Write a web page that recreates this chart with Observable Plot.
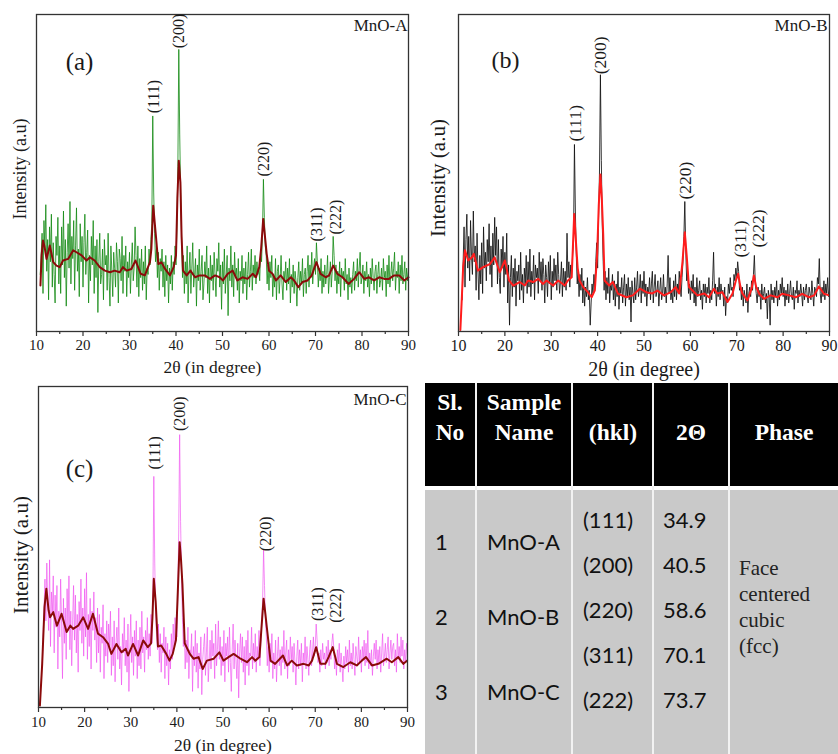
<!DOCTYPE html>
<html><head><meta charset="utf-8">
<script src="https://cdn.jsdelivr.net/npm/d3@7"></script>
<script src="https://cdn.jsdelivr.net/npm/@observablehq/plot@0.6"></script>
<style>
body{margin:0;background:#fff;}
#root{position:relative;width:838px;height:754px;overflow:hidden;background:#fff;}
.pane{position:absolute;}
.tx{position:absolute;white-space:nowrap;line-height:1;}
</style>
</head><body><div id="root"></div>
<script>
// ---------- shared axis data ----------
const majorTicks = [10,20,30,40,50,60,70,80,90];
const minorTicks = [15,25,35,45,55,65,75,85];
const hkl = ["(111)","(200)","(220)","(311)","(222)"];
const RAW_START = 10.8, RAW_STEP = 0.2;

// ---------- panel (a) MnO-A ----------
const rawA = [
18,
24,31,12,35,26, 40,19,29,10,33, 22,37,14,28,18, 9,30,24,36,15, 27,12,33,21,38,
17,29,8,25,34, 20,41,15,30,23, 35,13,27,39,19, 26,11,34,22,30, 14,28,37,18,25,
32,9,24,16,30, 21,35,12,27,17, 29,6,22,31,15, 18,26,10,29,21, 24,13,31,17,8,
27,19,11,25,20, 14,28,22,9,26, 23,16,30,12,24, 19,27,11,22,17, 25,12,21,28,16,
20,33,24,14,27, 11,23,17,26,13, 22,15,27,10,20, 18,26,21,29,34, 68,44,31,22,27,
17,25,13,23,19, 26,14,22,11,24, 16,21,9,20,15, 24,13,22,18,27, 21,33,52,89,62,
44,30,17,24,12, 22,15,27,9,19, 25,12,20,28,14, 18,23,8,21,16, 26,13,19,24,10,
15,22,17,27,12, 20,9,24,16,21, 13,25,18,11,23, 19,28,14,21,7, 22,15,26,12,18,
24,5,20,16,27, 14,21,11,25,17, 20,13,23,9,19, 16,24,12,20,15, 22,10,18,25,14,
19,26,13,21,17, 24,15,22,18,20, 16,25,22,31,48, 36,27,24,15,21, 13,22,17,24,11,
18,14,23,10,19, 21,12,17,24,15, 10,19,16,22,13, 20,15,23,9,18, 14,21,12,19,16,
8,17,22,13,19, 15,23,11,18,20, 12,19,24,14,21, 17,25,15,20,23, 18,28,22,14,20,
16,23,12,19,14, 21,15,18,24,12, 17,22,14,19,30, 24,16,21,12,19, 15,22,11,20,17,
19,13,23,15,18, 10,20,14,17,12, 18,22,13,19,16, 23,14,20,25,15, 17,21,12,19,16,
22,14,18,11,20, 15,23,17,13,19, 21,12,18,22,14, 16,20,13,23,17, 19,11,21,15,24,
14,18,22,16,20, 25,13,19,17,22, 12,21,16,24,15, 18,22,13,20,16,
19];
const smoothA = [[10.85,14.5],[11.1,24],[11.4,28.7],[11.7,27],[12.15,22.9],[12.87,27.1],[13.6,21.9],[14.3,20.8],[15.0,20.3],[15.7,22.4],[16.8,22.9],[17.9,25.6],[18.6,25],[19.7,24],[20.75,22.4],[21.5,23.4],[22.5,22.4],[23.6,20.3],[24.7,19.2],[25.8,18.7],[26.8,19.2],[27.9,18.7],[28.6,20.3],[29.4,19.2],[30.4,19.7],[31.3,22.4],[32.4,18.2],[33.3,17.7],[34.4,21.9],[34.7,26],[35.1,39.7],[35.7,29.8],[36.2,21.3],[36.9,21.8],[37.6,19.8],[38.7,17.7],[39.5,20.3],[40.0,24],[40.3,42],[40.6,53.9],[40.95,47],[41.2,30],[41.5,19.2],[42.3,17.7],[43.1,19.2],[44.1,17.1],[45.1,17.7],[46.2,17.7],[47.3,16.6],[48.4,17.7],[49.4,17.1],[50.1,16.1],[51.1,18.2],[52.2,19.2],[53.2,16.1],[54.3,17.1],[55.4,16.6],[56.5,18.2],[57.2,17.1],[57.9,20.3],[58.3,26],[58.75,35.5],[59.2,29],[59.5,24.5],[60.0,19.2],[60.75,18.2],[61.5,16.1],[62.5,17.7],[63.6,15.6],[64.7,17.1],[65.4,16.1],[66.3,14.0],[67.2,15.6],[68.3,16.1],[69.2,17.7],[70.2,21.9],[71.1,18.2],[72.2,17.1],[72.9,17.7],[73.8,20.8],[74.7,18.2],[75.8,17.1],[77.1,15.0],[78.3,16.6],[79.4,18.7],[80.5,16.6],[81.5,17.1],[82.6,16.1],[83.7,17.1],[84.8,16.6],[85.8,16.6],[86.9,17.7],[88.0,17.7],[89.1,16.1],[90,17.1]];
const labelXA = [35.2, 40.6, 59.0, 70.3, 74.4];
const labelYA = [68.5, 89, 48.6, 28.1, 30.3];

// ---------- panel (b) MnO-B ----------
const rawB = [
10,
22,33,14,29,37, 20,30,16,35,24, 18,38,22,27,13, 31,19,10,24,15, 28,12,33,20,25,
16,29,22,34,18, 27,14,31,21,36, 24,33,15,29,17, 12,26,20,30,14, 25,18,31,9,21,
2,17,24,11,20, 14,23,8,19,16, 21,10,25,13,18, 9,20,15,24,12, 22,14,26,11,19,
15,24,10,21,17, 20,12,25,16,22, 13,23,18,9,21, 17,11,22,15,24, 10,19,14,23,16,
21,13,25,18,12, 16,22,11,20,14, 19,13,31,17,22, 14,21,17,24,29, 59,38,24,15,19,
11,18,13,20,9, 16,8,14,11,17, 10,13,2,9,15, 12,18,14,22,28, 20,36,50,81,54,
34,22,13,19,10, 17,12,20,9,15, 13,18,10,16,8, 15,11,19,7,14, 12,17,9,14,18,
8,15,11,17,10, 14,3,16,12,9, 17,10,14,19,11, 13,18,9,16,12, 19,11,15,8,14,
12,17,10,15,19, 9,14,18,11,13, 16,8,13,17,10, 12,18,11,14,9, 15,24,12,17,10,
13,9,16,11,18, 10,15,12,19,14, 11,17,22,30,41, 26,16,19,12,15, 10,16,12,18,9,
14,8,17,11,13, 16,10,13,7,15, 11,15,9,14,12, 17,9,13,10,16, 25,12,15,8,14,
11,17,10,15,12, 13,8,14,5,11, 9,15,12,17,13, 14,11,18,16,20, 17,22,19,13,15,
10,14,8,13,11, 9,15,6,12,14, 11,16,13,18,24, 15,12,9,14,11, 13,7,15,10,12,
14,9,12,4,13, 11,2,15,10,13, 9,14,11,16,8, 13,10,15,12,17, 11,14,8,13,10,
15,9,12,16,11, 10,14,7,13,12, 16,9,13,11,15, 12,8,14,10,13, 15,11,9,14,12,
10,16,12,8,14, 13,11,17,15,23, 12,9,14,11,16, 10,15,12,17,11,
13];
const smoothB = [[10.4,0.5],[10.7,10],[11.0,20.3],[11.4,25.6],[12.1,22.4],[12.9,23.4],[13.3,24.5],[14.2,19.2],[15.3,20.3],[16.8,21.3],[17.8,23.4],[18.9,18.7],[20.0,22.4],[20.9,16.1],[21.8,14.5],[23.2,15.6],[24.3,14.5],[25.0,16.1],[26.1,15.6],[27.2,16.6],[28.2,15.0],[29.0,16.1],[30.4,14.5],[31.5,16.1],[32.9,14.5],[33.6,16.1],[34.4,17.1],[34.65,26],[34.95,37.1],[35.4,26.6],[35.7,20],[36.1,16.1],[36.9,14.0],[37.9,12.4],[38.7,10.8],[39.4,13.0],[39.9,24.5],[40.25,40],[40.6,49.5],[40.9,42],[41.2,30.8],[41.5,16.1],[42.5,14.5],[43.3,15.6],[44.4,11.9],[46.2,10.8],[47.6,11.4],[49.1,13.5],[50.5,12.4],[51.8,12.0],[52.9,12.9],[54.3,11.4],[55.8,12.4],[56.8,14.0],[57.6,12.0],[58.3,22],[58.8,31.3],[59.2,24],[59.7,14.0],[60.4,13.0],[61.5,11.4],[63.0,12.0],[64.0,10.8],[65.1,13.5],[65.8,12.0],[66.9,12.4],[68.0,9.3],[69.1,12.0],[69.8,16],[70.3,18.2],[70.8,14],[71.2,12.0],[72.3,9.8],[73.2,13.5],[73.7,17.7],[74.2,14],[74.8,12.0],[75.9,10.3],[77.3,11.4],[78.8,10.8],[79.8,11.9],[81.3,11.4],[82.7,10.8],[84.1,11.9],[85.6,10.8],[86.7,11.4],[87.7,14.2],[88.8,11.9],[89.9,11.4]];
const labelXB = [35.2, 40.7, 58.9, 70.8, 74.6];
const labelYB = [59.6, 80.8, 41.3, 23.0, 26.2];

// ---------- panel (c) MnO-C ----------
const rawC = [
12,
22,31,40,27,45, 33,24,46,19,36, 29,41,17,35,25, 38,12,30,22,40, 26,9,34,20,31,
15,37,24,41,18, 30,13,27,38,21, 35,17,29,11,33, 24,40,20,31,16, 37,22,42,15,29,
19,34,12,30,24, 36,21,28,14,31, 17,29,11,25,20, 32,9,23,16,27, 14,26,19,30,10,
22,13,27,8,20, 25,15,31,12,19, 7,23,17,28,13, 21,11,26,5,18, 29,14,22,10,24,
16,27,9,21,13, 25,12,30,17,22, 11,24,18,28,15, 23,16,29,20,33, 72,45,30,22,18,
26,14,23,11,20, 17,25,9,22,13, 20,7,18,12,23, 15,26,19,28,24, 22,35,55,85,58,
42,28,19,24,12, 21,14,25,9,18, 16,23,5,19,13, 24,11,20,6,17, 12,22,4,15,19,
23,10,17,25,8, 14,21,12,24,16, 20,9,26,13,18, 27,15,22,10,19, 13,24,8,20,16,
22,11,25,14,5, 18,26,12,21,15, 9,20,3,17,23, 14,22,11,19,7, 21,13,24,10,17,
16,25,12,20,14, 23,11,19,15,24, 13,20,26,34,49, 38,27,22,13,19, 11,20,14,23,9,
17,12,21,8,16, 22,13,18,10,19, 14,24,12,17,21, 9,18,13,22,15, 19,11,20,14,7,
16,21,12,18,13, 20,8,17,14,22, 12,19,15,10,18, 21,13,17,22,16, 19,26,21,14,17,
11,18,13,20,15, 17,12,19,14,21, 13,18,15,20,23, 19,12,16,10,18, 14,20,11,17,13,
8,16,12,19,14, 18,11,21,13,17, 12,20,15,10,19, 16,13,22,14,18, 11,19,15,21,13,
20,14,24,12,17, 13,18,10,16,20, 15,21,12,18,14, 19,11,17,23,13, 16,20,14,18,22,
12,17,21,15,19, 20,13,18,11,23, 15,19,14,22,16, 21,12,18,14,20,
16];
const smoothC = [[10.3,0.6],[10.8,13.6],[11.3,31.3],[11.7,37.0],[12.2,30.2],[12.5,28.1],[13.2,29.7],[14.0,25.5],[15.0,29.2],[16.1,23.5],[16.9,25.5],[17.5,24.5],[18.6,25.5],[19.7,28.1],[20.75,24.5],[21.8,29.2],[22.9,23.0],[24.0,21.9],[25.1,19.8],[25.8,16.7],[26.9,19.8],[28.0,17.2],[28.9,18.3],[29.4,16.2],[30.5,19.8],[31.6,16.2],[32.7,20.9],[33.7,18.8],[34.4,20],[34.7,28],[35.0,40.1],[35.4,33],[35.9,19.0],[36.6,19.3],[37.7,16.7],[38.4,14.6],[39.1,16.7],[39.8,21],[40.2,36],[40.6,51.5],[40.9,46],[41.2,38.5],[41.7,20],[42.8,16.7],[43.6,15.2],[44.7,15.7],[45.6,12.0],[46.5,14.6],[48.0,15.2],[49.2,17.2],[50.1,14.6],[51.2,15.7],[52.3,16.7],[53.8,15.2],[55.2,14.1],[56.3,15.7],[57.0,14.6],[57.9,15.7],[58.4,26],[58.8,33.9],[59.2,29],[59.5,25.0],[60.3,14.6],[61.3,13.6],[63.0,16.2],[63.9,13.1],[64.9,14.6],[66.0,13.1],[67.5,13.6],[68.6,13.1],[69.3,14.6],[70.2,18.8],[71.1,13.6],[72.2,13.6],[72.9,15.7],[73.8,18.8],[74.7,13.6],[76.1,12.6],[77.6,14.1],[79.0,13.1],[80.1,14.6],[81.0,15.7],[82.3,13.1],[83.7,13.6],[85.5,15.2],[86.6,14.1],[88.0,15.7],[89.1,13.6],[89.9,14.6]];
const labelXC = [35.3, 40.7, 59.2, 70.5, 74.5];
const labelYC = [73.8, 85.8, 48.4, 26.6, 26.1];

// ---------- table ----------
const tableHead = [["Sl.","No"],["Sample","Name"],["(hkl)"],["2Θ"],["Phase"]];
const slNo = ["1","2","3"];
const sampleNames = ["MnO-A","MnO-B","MnO-C"];
const tablePeaks = ["(111)","(200)","(220)","(311)","(222)"];
const tableAngles = ["34.9","40.5","58.6","70.1","73.7"];
const phaseLines = ["Face","centered","cubic","(fcc)"];

const SERIF = "'Liberation Serif','Times New Roman',serif";
const TXT = "#1a1a1a";

function panel(o) {
  const labels = hkl.map((t, i) => ({t, x: o.lx[i], y: o.ly[i]}));
  return Plot.plot({
    width: o.w, height: o.h,
    marginLeft: o.ml, marginRight: o.mr, marginTop: o.mt, marginBottom: o.mb,
    x: {domain: [10, 90]},
    y: {domain: [0, 100], axis: null},
    style: {fontFamily: SERIF, background: "transparent", color: TXT, overflow: "visible"},
    marks: [
      Plot.line(o.raw, {x: (d, i) => RAW_START + i * RAW_STEP, y: d => d, stroke: o.rawColor, strokeWidth: 1, strokeOpacity: o.rawOpacity}),
      Plot.line(o.smooth, {x: d => d[0], y: d => d[1], stroke: o.smoothColor, strokeWidth: 2}),
      Plot.frame({stroke: "#333", strokeWidth: 1.3}),
      Plot.axisX(majorTicks, {tickSize: 5, tickPadding: o.tp, fontSize: o.tickFont, label: null, stroke: "#333", strokeWidth: 1.2}),
      Plot.axisX(minorTicks, {tickSize: 3, tickFormat: () => "", label: null, stroke: "#333", strokeWidth: 1.2}),
      Plot.text(labels, {x: "x", y: "y", text: "t", rotate: -90, textAnchor: "start", fontSize: o.hklFont, fill: TXT, dy: -1}),
      Plot.text([o.xTitle], {text: d => d, frameAnchor: "bottom", textAnchor: "middle", dy: o.xTitleDy, dx: o.xTitleDx, lineAnchor: "middle", fontSize: o.titleFont, fill: TXT}),
      Plot.text([o.yTitle], {text: d => d, frameAnchor: "left", textAnchor: "middle", lineAnchor: "middle", rotate: -90, dx: o.yTitleDx, dy: o.yTitleDy, fontSize: o.yFont, fill: TXT}),
      Plot.text([o.name], {text: d => d, frameAnchor: "top-right", textAnchor: "end", lineAnchor: "middle", dx: o.nameDx, dy: o.nameDy, fontSize: 17, fill: TXT}),
      Plot.text([o.tag], {text: d => d, frameAnchor: "top-left", textAnchor: "middle", lineAnchor: "middle", dx: o.tagDx, dy: o.tagDy, fontSize: o.tagFont, fill: TXT})
    ]
  });
}

const root = document.getElementById("root");
function place(node, left, top) {
  const d = document.createElement("div");
  d.className = "pane";
  d.style.left = left + "px"; d.style.top = top + "px";
  d.appendChild(node); root.appendChild(d);
}

place(panel({w: 420, h: 380, ml: 36, mr: 12, mt: 14, mb: 49, raw: rawA, smooth: smoothA,
  rawColor: "#138a13", rawOpacity: 0.8, smoothColor: "#8b0a0a", lx: labelXA, ly: labelYA,
  tp: 3, tickFont: 15, hklFont: 16, xTitle: "2θ (in degree)", xTitleDy: 36, xTitleDx: -10, titleFont: 17.5,
  yTitle: "Intensity (a.u)", yTitleDx: -16, yTitleDy: -4, yFont: 18, name: "MnO-A", nameDx: -1, nameDy: 11,
  tag: "(a)", tagDx: 43, tagDy: 47, tagFont: 25}), 0, 0);

place(panel({w: 418, h: 380, ml: 38, mr: 9, mt: 14, mb: 49, raw: rawB, smooth: smoothB,
  rawColor: "#111111", rawOpacity: 0.85, smoothColor: "#ff1c1c", lx: labelXB, ly: labelYB,
  tp: 3, tickFont: 16, hklFont: 17.5, xTitle: "2θ (in degree)", xTitleDy: 38, xTitleDx: 0, titleFont: 20,
  yTitle: "Intensity (a.u)", yTitleDx: -20, yTitleDy: 5, yFont: 21, name: "MnO-B", nameDx: -2, nameDy: 11,
  tag: "(b)", tagDx: 47, tagDy: 46, tagFont: 24}), 420, 0);

place(panel({w: 420, h: 384, ml: 38, mr: 13, mt: 16, mb: 47, raw: rawC, smooth: smoothC,
  rawColor: "#f050f0", rawOpacity: 0.65, smoothColor: "#8b0a0a", lx: labelXC, ly: labelYC,
  tp: 4, tickFont: 15, hklFont: 16, xTitle: "2θ (in degree)", xTitleDy: 38, xTitleDx: 0, titleFont: 17.5,
  yTitle: "Intensity (a.u)", yTitleDx: -17, yTitleDy: 8, yFont: 21, name: "MnO-C", nameDx: -1, nameDy: 13,
  tag: "(c)", tagDx: 41, tagDy: 82, tagFont: 25}), 0, 370);

// ---------- table (HTML) ----------
const tbl = document.createElement("div");
tbl.style.cssText = "position:absolute;left:425px;top:383px;width:413px;height:371px;";
root.appendChild(tbl);
function box(css) { const d = document.createElement("div"); d.style.cssText = "position:absolute;" + css; tbl.appendChild(d); return d; }
box("left:0;top:0;width:413px;height:103px;background:#000;");
box("left:0;top:107px;width:413px;height:264px;background:#c9c9c9;");
[51, 147, 228, 304].forEach(x => box(`left:${x - 1}px;top:0;width:2px;height:371px;background:#f2f2f2;`));
function txt(s, cx, cy, css, anchor) {
  const d = document.createElement("div");
  d.className = "tx";
  d.textContent = s;
  d.style.cssText += `left:${cx}px;top:${cy}px;transform:translate(${anchor === "start" ? "0" : "-50%"},-50%);` + css;
  tbl.appendChild(d);
}
const headCss = `font-family:${SERIF};font-weight:bold;font-size:23.5px;color:#fff;`;
const headCx = [25, 99, 188, 266, 359];
tableHead.forEach((lines, i) => {
  if (lines.length === 2) { txt(lines[0], headCx[i], 20, headCss); txt(lines[1], headCx[i], 50, headCss); }
  else txt(lines[0], headCx[i], 50, headCss);
});
const bodyCss = "font-family:Lato,'Open Sans',sans-serif;font-size:22px;color:#111;";
const rowY3 = [159, 234, 309];
slNo.forEach((s, i) => txt(s, 10, rowY3[i], bodyCss, "start"));
sampleNames.forEach((s, i) => txt(s, 62, rowY3[i], bodyCss, "start"));
const rowY5 = [137, 182, 227, 272, 317];
tablePeaks.forEach((s, i) => txt(s, 158, rowY5[i], bodyCss, "start"));
tableAngles.forEach((s, i) => txt(s, 238, rowY5[i], bodyCss, "start"));
const phaseY = [185, 211, 237, 263];
phaseLines.forEach((s, i) => txt(s, 314, phaseY[i], `font-family:${SERIF};font-size:21px;color:#222;`, "start"));
</script>
</body></html>
